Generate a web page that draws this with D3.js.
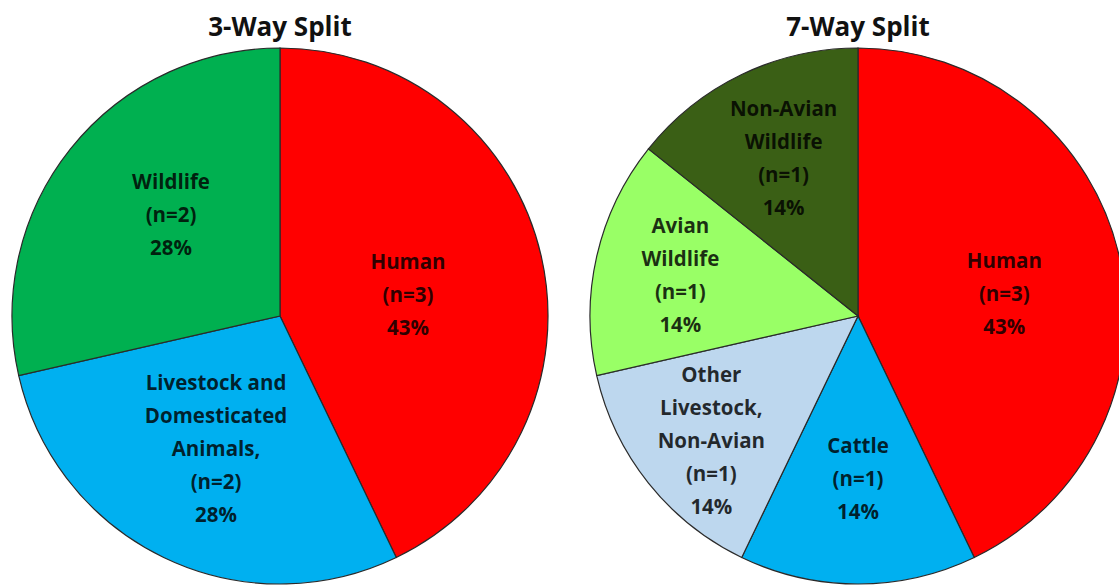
<!DOCTYPE html>
<html>
<head>
<meta charset="utf-8">
<script src="https://cdn.jsdelivr.net/npm/d3@7"></script>
<style>
  body { margin: 0; background: #fff; }
  svg { display: block; font-family: "Open Sans", Lato, sans-serif; }
</style>
</head>
<body>
<svg width="1119" height="585"></svg>
<script>
// 3-way split
var split3Labels = [["Human", "(n=3)", "43%"],
                    ["Livestock and", "Domesticated", "Animals,", "(n=2)", "28%"],
                    ["Wildlife", "(n=2)", "28%"]];
var split3Counts = [3, 2, 2];
var split3Colors = ["#ff0000", "#00b0f0", "#00b050"];

// 7-way split
var split7Labels = [["Human", "(n=3)", "43%"],
                    ["Cattle", "(n=1)", "14%"],
                    ["Other", "Livestock,", "Non-Avian", "(n=1)", "14%"],
                    ["Avian", "Wildlife", "(n=1)", "14%"],
                    ["Non-Avian", "Wildlife", "(n=1)", "14%"]];
var split7Counts = [3, 1, 1, 1, 1];
var split7Colors = ["#ff0000", "#00b0f0", "#bdd7ee", "#99ff66", "#3a5f15"];

var titles = ["3-Way Split", "7-Way Split"];

var svg = d3.select("svg");
var R = 268;

// label placement: [fraction of radius, vertical nudge]
function drawPie(cx, cy, title, counts, labels, colors, labelPos) {
  var g = svg.append("g").attr("transform", "translate(" + cx + "," + cy + ")");

  var pie = d3.pie().sort(null).value(function(d) { return d; });
  var arcs = pie(counts);
  var arc = d3.arc().innerRadius(0).outerRadius(R);

  g.selectAll(".slice")
      .data(arcs)
    .enter().append("path")
      .attr("class", "slice")
      .attr("d", arc)
      .attr("fill", function(d, i) { return colors[i]; })
      .attr("stroke", "#2a2a2a")
      .attr("stroke-width", 1.2);

  var lbl = g.selectAll(".lbl")
      .data(arcs)
    .enter().append("text")
      .attr("class", "lbl")
      .attr("text-anchor", "middle")
      .style("font-size", "20.5px")
      .style("font-weight", "bold")
      .attr("fill", "#000")
      .attr("fill-opacity", 0.82)
      .attr("transform", function(d, i) {
        var p = labelPos[i];
        var a = d3.arc().innerRadius(R * p[0]).outerRadius(R * p[0]);
        var c = a.centroid(d);
        return "translate(" + c[0] + "," + (c[1] + p[1]) + ")";
      });

  lbl.each(function(d, i) {
    var lines = labels[i];
    var n = lines.length;
    d3.select(this).selectAll("tspan")
        .data(lines)
      .enter().append("tspan")
        .attr("x", 0)
        .attr("y", function(t, k) { return (k - (n - 1) / 2) * 33 + 7; })
        .text(function(t) { return t; });
  });

  svg.append("text")
      .attr("x", cx)
      .attr("y", 36)
      .attr("text-anchor", "middle")
      .style("font-size", "26px")
      .style("font-weight", "bold")
      .attr("fill", "#111")
      .text(title);
}

drawPie(280, 316, titles[0], split3Counts, split3Labels, split3Colors,
        [[0.49, 8], [0.55, 0], [0.52, -14]]);
drawPie(858, 316, titles[1], split7Counts, split7Labels, split7Colors,
        [[0.56, 11], [0.61, 0], [0.70, 8], [0.68, 0], [0.64, -3]]);
</script>
</body>
</html>
